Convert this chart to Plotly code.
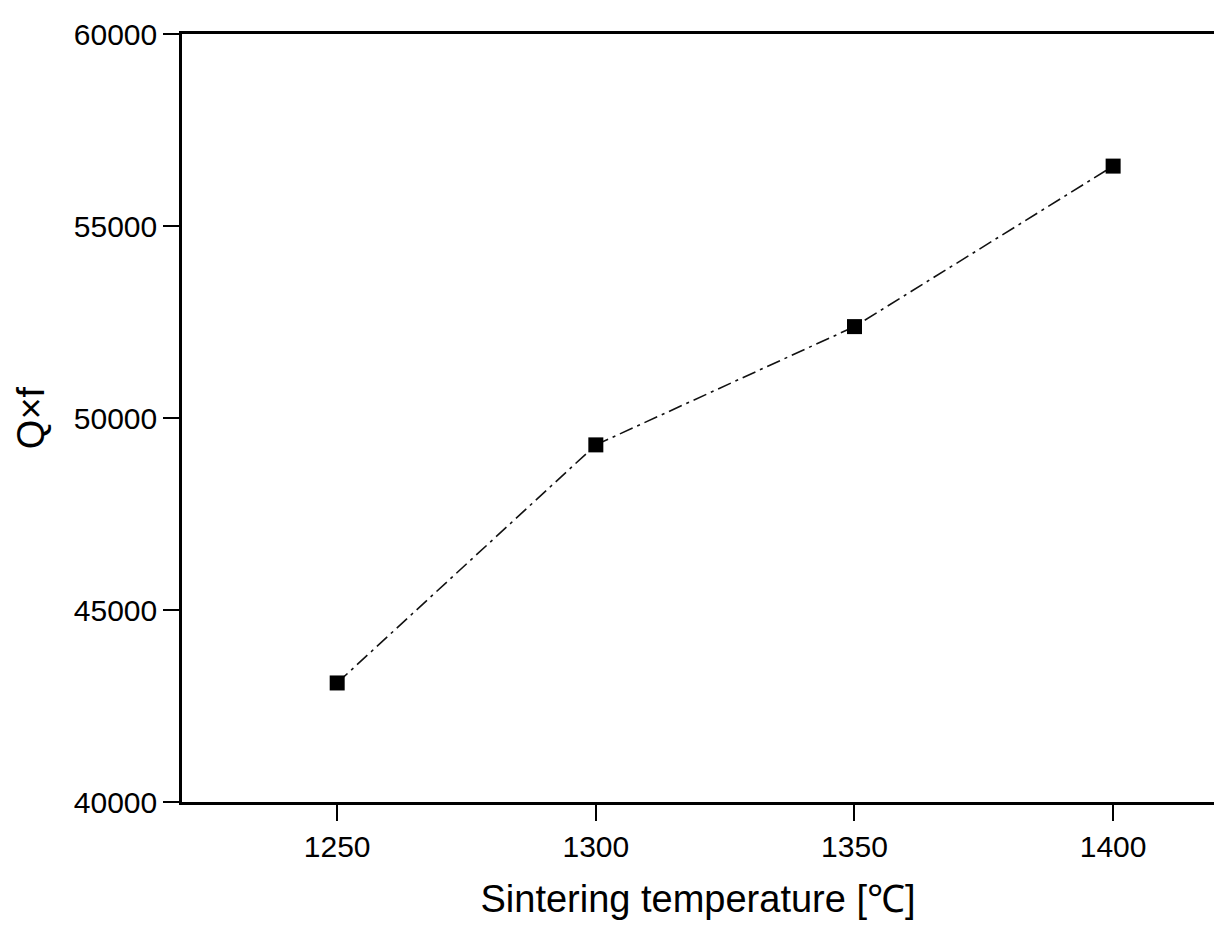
import plotly.graph_objects as go

temperature = [1250, 1300, 1350, 1400]
qf_values = [43100, 49300, 52380, 56560]
x_ticks = [1250, 1300, 1350, 1400]
y_ticks = [40000, 45000, 50000, 55000, 60000]

fig = go.Figure()
fig.add_trace(go.Scatter(
    x=temperature, y=qf_values,
    mode="lines+markers",
    line=dict(color="#111111", width=1.6, dash="14px,5px,3px,5px"),
    marker=dict(symbol="square", size=15, color="black"),
    showlegend=False,
))

font_family = "Arial, Liberation Sans, sans-serif"
fig.update_layout(
    width=1214, height=936,
    margin=dict(l=182, r=0, t=34, b=134),
    plot_bgcolor="white", paper_bgcolor="white",
    font=dict(family=font_family, color="black"),
)
fig.update_xaxes(
    range=[1220, 1419.5],
    tickvals=x_ticks, ticktext=[str(v) for v in x_ticks],
    ticks="outside", ticklen=16, tickwidth=2, tickcolor="black",
    showline=True, linewidth=2.5, linecolor="black", mirror=True,
    showgrid=False, zeroline=False,
    tickfont=dict(size=30),
    title=dict(text="Sintering temperature [℃]", font=dict(size=38), standoff=24),
)
fig.update_yaxes(
    range=[40000, 60000],
    tickvals=y_ticks, ticktext=[str(v) for v in y_ticks],
    ticks="outside", ticklen=16, tickwidth=2, tickcolor="black",
    showline=True, linewidth=2.5, linecolor="black",
    showgrid=False, zeroline=False,
    tickfont=dict(size=30),
    title=dict(text="Q×f", font=dict(size=38), standoff=18),
)

fig.write_html("out.html", config={"displayModeBar": False},
               post_script="document.body.style.margin='0';")
